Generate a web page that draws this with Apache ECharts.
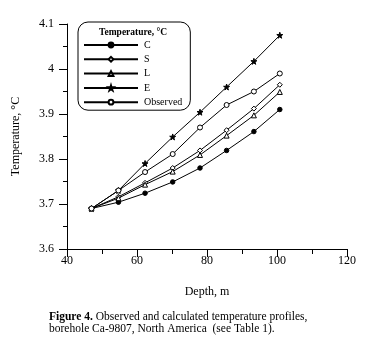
<!DOCTYPE html>
<html>
<head>
<meta charset="utf-8">
<script src="https://cdn.jsdelivr.net/npm/echarts@6/dist/echarts.min.js"></script>
<style>
  html, body { margin: 0; padding: 0; background: #fff; }
  #chart { width: 367px; height: 356px; }
</style>
</head>
<body>
<div id="chart"></div>
<script>
// depth (m) of each reading
const depths = [47, 54.7, 62.3, 70.2, 78, 85.6, 93.4, 100.8];

// temperature, °C
const tempC   = [3.69, 3.704, 3.724, 3.749, 3.780, 3.819, 3.861, 3.910];
const tempS   = [3.69, 3.716, 3.747, 3.780, 3.819, 3.864, 3.912, 3.965];
const tempL   = [3.69, 3.713, 3.743, 3.772, 3.809, 3.852, 3.897, 3.949];
const tempE   = [3.69, 3.730, 3.790, 3.849, 3.904, 3.960, 4.017, 4.075];
const tempObs = [3.69, 3.730, 3.771, 3.811, 3.870, 3.920, 3.950, 3.990];

const seriesNames = ['C', 'S', 'L', 'E', 'Observed'];

const font = 'Liberation Serif';
const starPath = 'path://M50,0 L61,35 L98,35 L68,57 L79,91 L50,70 L21,91 L32,57 L2,35 L39,35 Z';

const chart = echarts.init(document.getElementById('chart'));

function pairs(ys) {
  return depths.map((d, i) => [d, ys[i]]);
}

function makeSeries(name, ys, symbol, size, filled) {
  return {
    name: name,
    type: 'line',
    data: pairs(ys),
    symbol: symbol,
    symbolSize: size,
    showSymbol: true,
    lineStyle: { color: '#000', width: 1 },
    itemStyle: {
      color: filled ? '#000' : '#fff',
      borderColor: '#000',
      borderWidth: 1
    },
    emphasis: { disabled: true },
    z: 2
  };
}

const option = {
  animation: false,
  backgroundColor: '#fff',
  textStyle: { fontFamily: font, color: '#000' },
  grid: { left: 67, right: 20, top: 24, bottom: 107 },
  legend: {
    orient: 'vertical',
    left: 78,
    top: 22,
    width: 108,
    padding: [18, 8, 3, 5],
    itemWidth: 54,
    itemHeight: 6,
    itemGap: 4.3,
    borderColor: '#000',
    borderWidth: 1,
    borderRadius: 10,
    textStyle: { fontFamily: font, fontSize: 10, color: '#000', padding: [0, 0, 0, 1] },
    data: seriesNames
  },
  xAxis: {
    type: 'value',
    min: 40,
    max: 120,
    interval: 20,
    name: 'Depth, m',
    nameLocation: 'middle',
    nameGap: 37,
    nameTextStyle: { fontFamily: font, fontSize: 12, color: '#000' },
    axisLine: { lineStyle: { color: '#000', width: 1 } },
    axisTick: { inside: false, length: 8, lineStyle: { color: '#000' } },
    minorTick: { show: true, splitNumber: 2, length: 5, lineStyle: { color: '#000' } },
    axisLabel: { fontFamily: font, fontSize: 12, color: '#000', margin: 6 },
    splitLine: { show: false }
  },
  yAxis: {
    type: 'value',
    min: 3.6,
    max: 4.1,
    interval: 0.1,
    name: 'Temperature, \u00B0C',
    nameLocation: 'middle',
    nameGap: 45,
    nameTextStyle: { fontFamily: font, fontSize: 12, color: '#000' },
    axisLine: { show: true, lineStyle: { color: '#000', width: 1 } },
    axisTick: { show: true, inside: false, length: 8, lineStyle: { color: '#000' } },
    minorTick: { show: true, splitNumber: 2, length: 4, lineStyle: { color: '#000' } },
    axisLabel: { fontFamily: font, fontSize: 12, color: '#000', margin: 13 },
    splitLine: { show: false }
  },
  graphic: [
    {
      type: 'text',
      left: 99,
      top: 28,
      style: {
        text: 'Temperature, \u00B0C',
        font: 'bold 9.5px "Liberation Serif"',
        fill: '#000'
      }
    },
    {
      type: 'text',
      left: 49,
      top: 311,
      style: {
        text: '{b|Figure 4.} Observed and calculated temperature profiles,\nborehole Ca-9807, North America  (see Table 1).',
        rich: {
          b: { fontFamily: font, fontSize: 11.5, fontWeight: 'bold', fill: '#000' }
        },
        fontFamily: font,
        fontSize: 11.5,
        lineHeight: 12,
        fill: '#000'
      }
    }
  ],
  series: [
    makeSeries('C', tempC, 'circle', 4.5, true),
    makeSeries('S', tempS, 'diamond', 5, false),
    makeSeries('L', tempL, 'triangle', 5, false),
    makeSeries('E', tempE, starPath, 6, true),
    makeSeries('Observed', tempObs, 'circle', 5, false)
  ]
};

chart.setOption(option);
window.addEventListener('resize', () => chart.resize());
</script>
</body>
</html>
